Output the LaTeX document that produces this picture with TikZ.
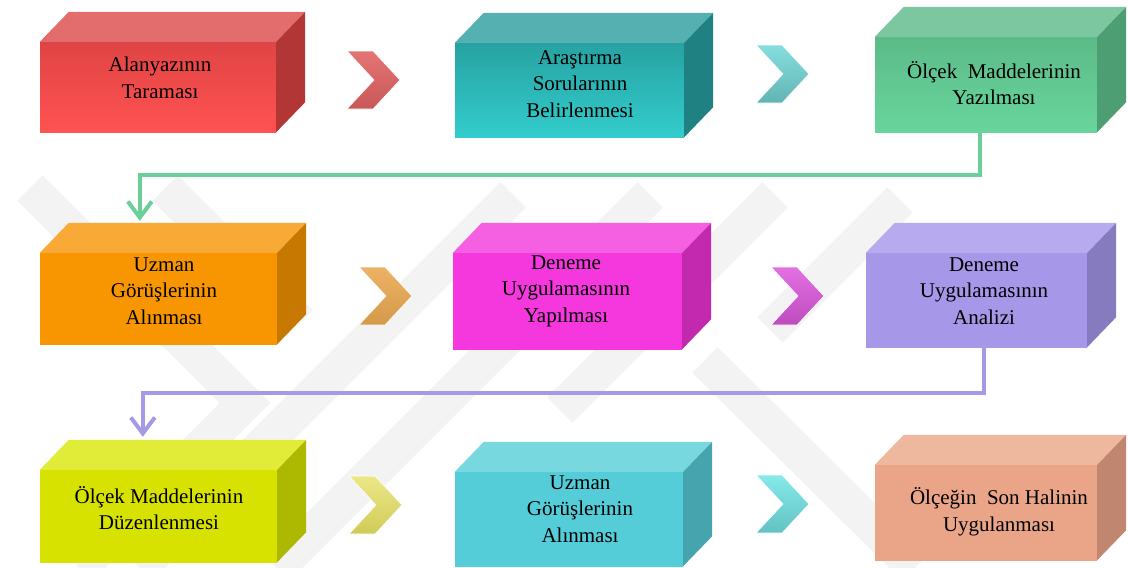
\documentclass[tikz,border=0pt]{standalone}
\usepackage{fontspec}
\setmainfont{Liberation Serif}
\usetikzlibrary{arrows.meta,calc}

\definecolor{rdF1}{HTML}{E04444}\definecolor{rdF2}{HTML}{FF5252}\definecolor{rdT}{HTML}{E36C6C}\definecolor{rdS}{HTML}{B33636}
\definecolor{tlF1}{HTML}{27A2A2}\definecolor{tlF2}{HTML}{33CCCC}\definecolor{tlT}{HTML}{55B1B1}\definecolor{tlS}{HTML}{1F8181}
\definecolor{gnF1}{HTML}{5CBB88}\definecolor{gnF2}{HTML}{68D59D}\definecolor{gnT}{HTML}{7CC7A0}\definecolor{gnS}{HTML}{4D9E73}
\definecolor{orF1}{HTML}{F79600}\definecolor{orF2}{HTML}{F79600}\definecolor{orT}{HTML}{F9A935}\definecolor{orS}{HTML}{C77800}
\definecolor{mgF1}{HTML}{F438DD}\definecolor{mgF2}{HTML}{F438DD}\definecolor{mgT}{HTML}{F560E2}\definecolor{mgS}{HTML}{C229AE}
\definecolor{puF1}{HTML}{A697E8}\definecolor{puF2}{HTML}{A697E8}\definecolor{puT}{HTML}{B8AAEE}\definecolor{puS}{HTML}{877BC0}
\definecolor{ylF1}{HTML}{D8E200}\definecolor{ylF2}{HTML}{D8E200}\definecolor{ylT}{HTML}{E0EC38}\definecolor{ylS}{HTML}{ADB900}
\definecolor{cyF1}{HTML}{55CDD8}\definecolor{cyF2}{HTML}{55CDD8}\definecolor{cyT}{HTML}{78D8E0}\definecolor{cyS}{HTML}{45A4AD}
\definecolor{saF1}{HTML}{EAA589}\definecolor{saF2}{HTML}{EAA589}\definecolor{saT}{HTML}{EEB89F}\definecolor{saS}{HTML}{C0866F}
\definecolor{c1a}{HTML}{E57575}\definecolor{c1b}{HTML}{C85858}
\definecolor{c2a}{HTML}{86DEDE}\definecolor{c2b}{HTML}{62B4B4}
\definecolor{c4a}{HTML}{EDB265}\definecolor{c4b}{HTML}{D49A4A}
\definecolor{c5a}{HTML}{E470E4}\definecolor{c5b}{HTML}{BE4CBE}
\definecolor{c7a}{HTML}{ECE888}\definecolor{c7b}{HTML}{CFCB58}
\definecolor{c8a}{HTML}{86EAEA}\definecolor{c8b}{HTML}{62C2C2}
\definecolor{gline}{HTML}{6ACF98}
\definecolor{pline}{HTML}{A899E6}
\definecolor{wmgray}{HTML}{F3F3F3}

\tikzset{
  front/.style={inner sep=0pt, draw=none},
  lbl/.style={align=center, font=\fontsize{21}{26.5}\selectfont, text=black, inner sep=0pt},
  wm/.style={draw=wmgray, line width=36pt, line join=miter, line cap=butt},
  conn/.style={line width=4pt, -{Straight Barb[length=16pt,width=24pt,line width=4pt]}},
  chevshape/.style={draw=white, line width=0.6pt}
}

\newcommand\mycube[6]{%
  \node[front, top color=#6F1, bottom color=#6F2, minimum width={#4pt-#2pt}, minimum height={#5pt-#3pt}] (#1) at ({(#2+#4)/2},{(#3+#5)/2}) {};
  \fill[#6T] (#1.north west) -- ++(29,-30) -- ([shift={(29,-30)}]#1.north east) -- (#1.north east) -- cycle;
  \fill[#6S] (#1.north east) -- ++(29,-30) -- ([shift={(29,-30)}]#1.south east) -- (#1.south east) -- cycle;
  \coordinate (#1bt) at ([shift={(29,-30)}]#1.north west);
}
\newcommand\mychev[5]{%
  \coordinate (#1) at (#2,#3);
  \shade[chevshape, top color=#4, bottom color=#5] (#1) -- ++(26,0) -- ++(27,29) -- ++(-27,29) -- ++(-26,0) -- ++(27,-29) -- cycle;
}

\begin{document}
\begin{tikzpicture}[x=1pt,y=-1pt]
\useasboundingbox (0,0) rectangle (1128,568);
\fill[white] (0,0) rectangle (1128,568);

% watermark
\begin{scope}
\clip (0,0) rectangle (1128,568);
\draw[wm] (30,188) -- (245,403) -- (80,568);
\draw[wm] (165,188) -- (300,323);
\draw[wm] (513,195) -- (140,568);
\draw[wm] (650,195) -- (277,568);
\draw[wm] (775,195) -- (560,410);
\draw[wm] (900,200) -- (770,330);
\draw[wm] (705,360) -- (915,568);
\end{scope}

% boxes
\mycube{b1}{40}{42}{276}{132}{rd}
\mycube{b2}{455}{43}{684}{137}{tl}
\mycube{b3}{875}{37}{1097}{132}{gn}
\mycube{b4}{40}{253}{277}{344}{or}
\mycube{b5}{453}{253}{682}{349}{mg}
\mycube{b6}{866}{253}{1087}{347}{pu}
\mycube{b7}{40}{470}{277}{562}{yl}
\mycube{b8}{455}{472}{683}{566}{cy}
\mycube{b9}{875}{465}{1097}{560}{sa}

% labels
\node[lbl] (t1) at (160,78) {Alanyazının\\Taraması};
\node[lbl] (t2) at (580,84) {Araştırma\\Sorularının\\Belirlenmesi};
\node[lbl] (t3) at (994,83) {Ölçek~ Maddelerinin\\Yazılması};
\node[lbl] (t4) at (164,291) {Uzman\\Görüşlerinin\\Alınması};
\node[lbl] (t5) at (566,291) {Deneme\\Uygulamasının\\Yapılması};
\node[lbl] (t6) at (984,291) {Deneme\\Uygulamasının\\Analizi};
\node[lbl] (t7) at (159,508) {Ölçek Maddelerinin\\Düzenlenmesi};
\node[lbl] (t8) at (580,509) {Uzman\\Görüşlerinin\\Alınması};
\node[lbl] (t9) at (999,512) {Ölçeğin~ Son Halinin\\Uygulanması};

% chevrons
\mychev{c1}{347}{51}{c1a}{c1b}
\mychev{c2}{756}{45}{c2a}{c2b}
\mychev{c4}{359}{267}{c4a}{c4b}
\mychev{c5}{771}{267}{c5a}{c5b}
\mychev{c7}{349}{476}{c7a}{c7b}
\mychev{c8}{756}{475}{c8a}{c8b}

% connectors
\coordinate (a4) at ([shift={(71,-2)}]b4bt);
\coordinate (g) at (0,175);
\draw[conn, gline] ([xshift=-6pt]b3.south) |- (g -| a4) -- (a4);
\coordinate (a7) at ([shift={(74,-3)}]b7bt);
\coordinate (p) at (0,393);
\draw[conn, pline] ([xshift=7.5pt]b6.south) |- (p -| a7) -- (a7);
\end{tikzpicture}
\end{document}
